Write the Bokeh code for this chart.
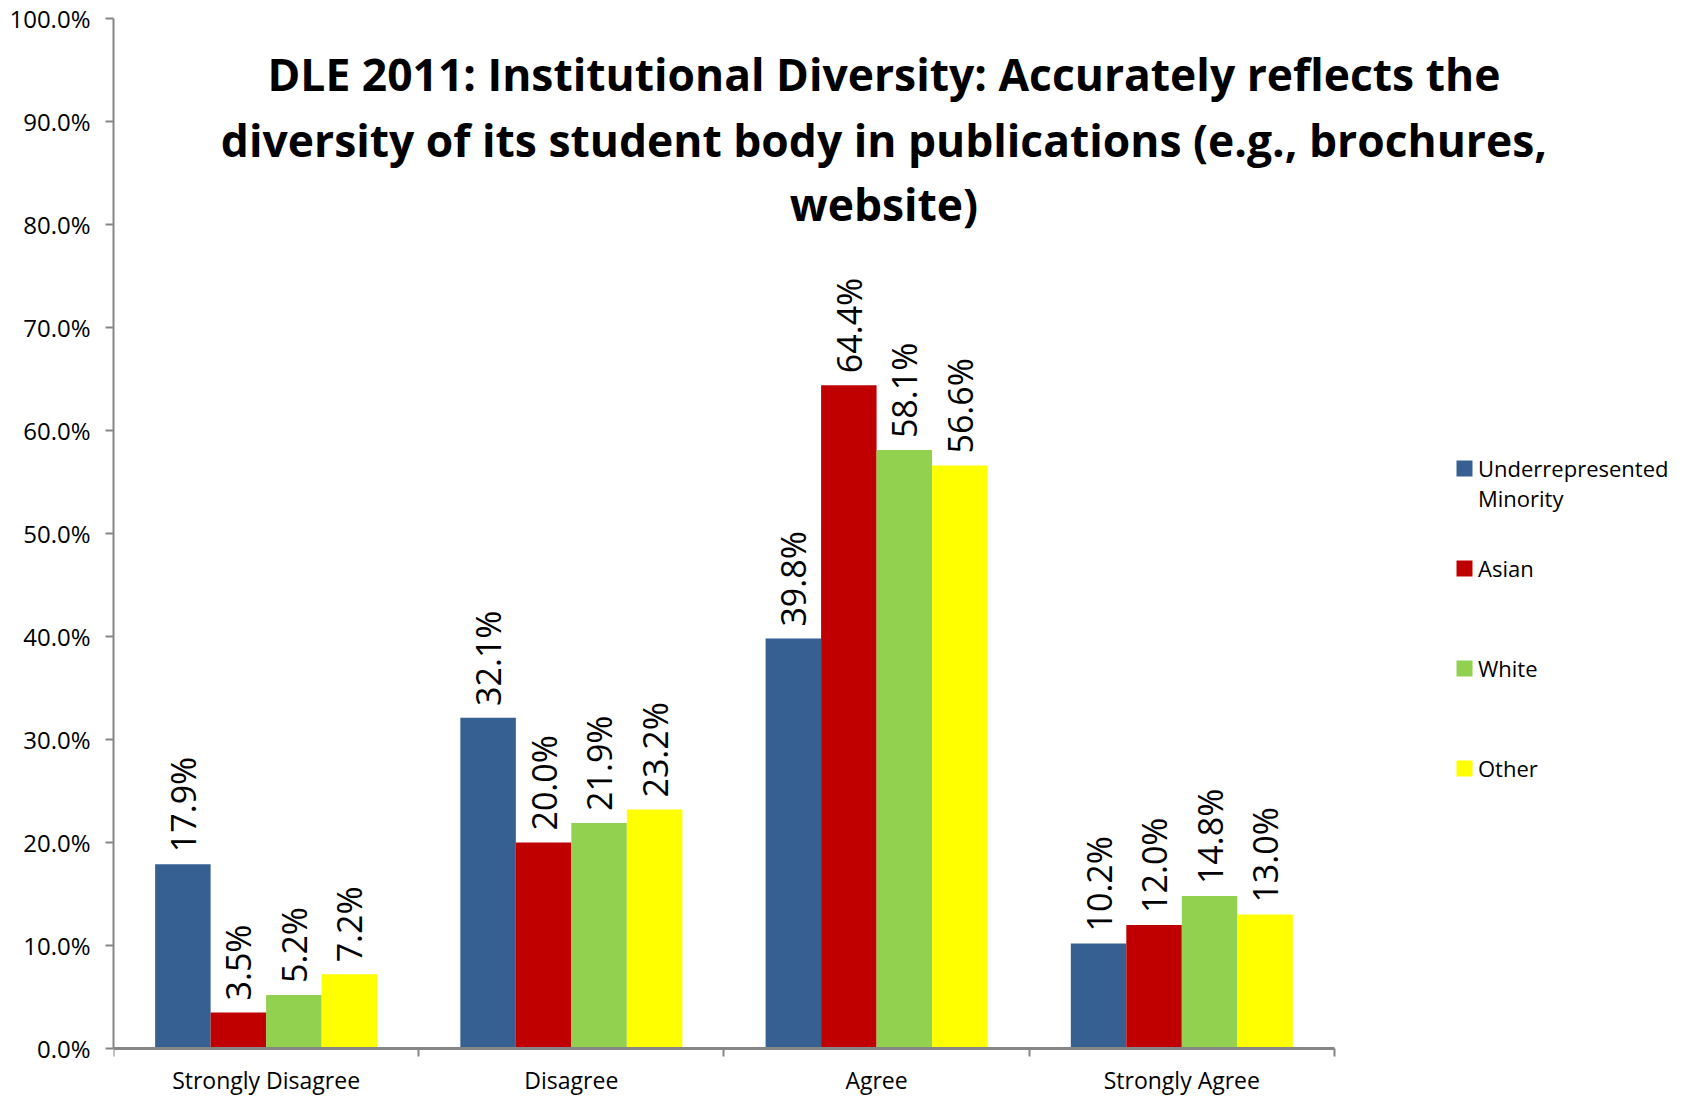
import math
from bokeh.plotting import figure
from bokeh.models import (ColumnDataSource, FixedTicker, PrintfTickFormatter, Legend,
                          LegendItem, LabelSet, Label, Range1d)
from bokeh.core.properties import value
from bokeh.embed import file_html
from bokeh.resources import INLINE

# ---------------- data ----------------
categories = ["Strongly Disagree", "Disagree", "Agree", "Strongly Agree"]
series_names = ["Underrepresented\nMinority", "Asian", "White", "Other"]
urm = [17.9, 32.1, 39.8, 10.2]
asian = [3.5, 20.0, 64.4, 12.0]
white = [5.2, 21.9, 58.1, 14.8]
other = [7.2, 23.2, 56.6, 13.0]
series_values = [urm, asian, white, other]
colors = ["#376092", "#C00000", "#92D050", "#FFFF00"]
y_ticks = [0, 10, 20, 30, 40, 50, 60, 70, 80, 90, 100]
title_lines = [
    "DLE 2011: Institutional Diversity: Accurately reflects the",
    "diversity of its student body in publications (e.g., brochures,",
    "website)",
]

FONT = "Open Sans"
AXIS_GRAY = "#868686"

# layout constants
W, H = 1690, 1097
X_END = 5.16       # frame extends right of the category axis (legend/title room)
Y_MIN = -4.757     # frame extends below 0 (category labels room)

p = figure(width=W, height=H, x_range=Range1d(0, X_END), y_range=Range1d(Y_MIN, 100),
           output_backend="svg", toolbar_location=None,
           min_border_left=113, min_border_right=2, min_border_top=18, min_border_bottom=0)
p.outline_line_color = None
p.xgrid.visible = False
p.ygrid.visible = False
p.background_fill_color = "white"
p.border_fill_color = "white"

# ---------------- bars ----------------
n_series = len(series_values)
bar_w = 1.0 / (n_series + 1.5)
legend_items = []
for j, (name, vals) in enumerate(zip(series_names, series_values)):
    xs = [i + 0.5 + (j - (n_series - 1) / 2) * bar_w for i in range(len(categories))]
    src = ColumnDataSource(dict(x=xs, top=vals, label=[f"{v:.1f}%" for v in vals]))
    r = p.vbar(x="x", top="top", width=bar_w, source=src, fill_color=colors[j], line_color=None)
    # a leading blank line keeps the swatch level with the first text line
    legend_label = "\n" + name if "\n" in name else name
    legend_items.append(LegendItem(label=legend_label, renderers=[r]))
    p.add_layout(LabelSet(x="x", y="top", text="label", source=src, angle=math.pi / 2,
                          text_align="left", text_baseline="middle", y_offset=12,
                          text_font=value(FONT), text_font_size="34px", text_color="black"))

# ---------------- category labels ----------------
cat_src = ColumnDataSource(dict(x=[i + 0.5 for i in range(len(categories))],
                                y=[0] * len(categories), text=categories))
p.add_layout(LabelSet(x="x", y="y", text="text", source=cat_src, y_offset=-40,
                      text_align="center", text_baseline="alphabetic",
                      text_font=value(FONT), text_font_size="23px", text_color="black"))

# ---------------- axes ----------------
xa = p.xaxis[0]
xa.fixed_location = 0
xa.bounds = (0, len(categories))
xa.ticker = FixedTicker(ticks=[], minor_ticks=list(range(len(categories) + 1)))
xa.major_tick_out = 0
xa.major_tick_in = 0
xa.minor_tick_out = 8
xa.minor_tick_in = 0
xa.minor_tick_line_color = AXIS_GRAY
xa.minor_tick_line_width = 2
xa.axis_line_color = AXIS_GRAY
xa.axis_line_width = 3

ya = p.yaxis[0]
ya.bounds = (0, 100)
ya.ticker = FixedTicker(ticks=y_ticks)
ya.formatter = PrintfTickFormatter(format="%.1f%%")
ya.major_tick_out = 8
ya.major_tick_in = 0
ya.minor_tick_out = 0
ya.minor_tick_in = 0
ya.major_tick_line_color = AXIS_GRAY
ya.major_tick_line_width = 2
ya.axis_line_color = AXIS_GRAY
ya.axis_line_width = 2
ya.major_label_standoff = 15
ya.major_label_text_font = FONT
ya.major_label_text_font_size = "24px"
ya.major_label_text_color = "black"

# ---------------- title (inside plot area) ----------------
title_x = 2.524
title_ys = [94.65, 88.25, 81.95]
for txt, ty in zip(title_lines, title_ys):
    p.add_layout(Label(x=title_x, y=ty, text=txt, text_align="center", text_baseline="alphabetic",
                       text_font=FONT, text_font_size="44.4px", text_font_style="bold",
                       text_color="black"))

# ---------------- legend ----------------
legend = Legend(items=legend_items, location=(1341, 284), orientation="vertical",
                glyph_width=20, glyph_height=20, label_standoff=4, spacing=10, label_height=90,
                padding=0, margin=0, border_line_alpha=0, background_fill_alpha=0,
                label_text_font=FONT, label_text_font_size="22px", label_text_color="black")
p.add_layout(legend, "center")

open("out.html", "w").write(file_html(p, INLINE))
